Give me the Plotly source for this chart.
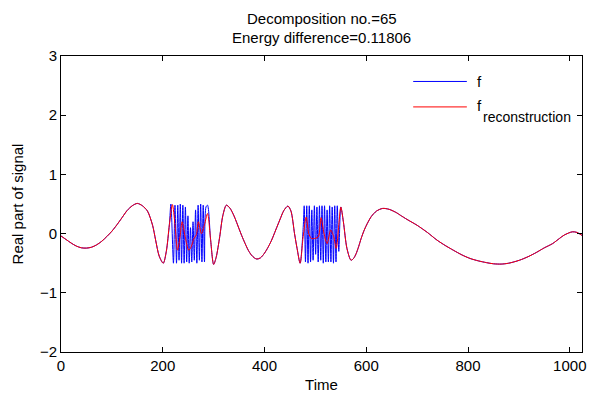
import plotly.graph_objects as go

# ---- data ----
# smooth part of the signal (shared by f and its reconstruction)
smooth_t = [0, 10, 20, 30, 40, 50, 60, 70, 80, 90, 100, 110, 120, 130, 140, 150,
            160, 170, 180, 186, 193, 201, 207, 213,
            300, 305, 312, 318, 325, 332, 340, 350, 355, 362, 368, 374, 380, 385, 392,
            400, 407, 414, 422, 430, 438, 446, 452, 459, 464, 470,
            570, 575, 580, 585, 590, 596, 602, 610, 620, 632, 645, 660, 667, 680, 700,
            720, 739, 755, 771, 788, 804, 820, 836, 850, 865, 880, 901, 918, 934,
            950, 966, 980, 989, 1005, 1014, 1024]
smooth_y = [-0.04, -0.10, -0.16, -0.21, -0.24, -0.245, -0.23, -0.19, -0.13, -0.05, 0.04, 0.15, 0.27, 0.39, 0.47, 0.51,
            0.47, 0.38, 0.14, -0.11, -0.38, -0.50, -0.30, 0.15,
            -0.52, -0.40, -0.05, 0.30, 0.48, 0.43, 0.30, 0.08, -0.03, -0.17, -0.28, -0.36, -0.41, -0.43, -0.41,
            -0.33, -0.23, -0.11, 0.06, 0.23, 0.39, 0.465, 0.38, 0.00, -0.25, -0.50,
            -0.45, -0.42, -0.34, -0.22, -0.08, 0.06, 0.17, 0.29, 0.38, 0.425, 0.41, 0.35, 0.31, 0.24, 0.14,
            0.02, -0.11, -0.20, -0.28, -0.36, -0.42, -0.46, -0.49, -0.51, -0.515, -0.50, -0.45, -0.39, -0.32,
            -0.24, -0.17, -0.08, -0.025, 0.03, 0.02, -0.03]

# high-frequency bursts of f (blue)
blue_b1_t = [216, 221, 224, 227, 229.5, 232, 234.5, 237, 239.5, 242, 244.5, 247, 249.5, 252,
             254.5, 257, 259.5, 262, 264.5, 267, 269.5, 272, 274.5, 277, 279.5, 282, 285, 288, 294]
blue_b1_y = [0.50, -0.50, 0.48, -0.50, 0.48, -0.45, 0.50, -0.50, 0.48, -0.50, 0.45, -0.48, 0.30, -0.50,
             0.10, -0.48, 0.20, -0.45, 0.40, -0.50, 0.48, -0.45, 0.50, -0.48, 0.48, -0.48, 0.45, 0.48, -0.10]
blue_b2_t = [476, 478, 480.5, 483, 485.5, 488, 490.5, 493, 495.5, 498, 500.5, 503, 505.5, 508,
             510.5, 513, 515.5, 518, 520.5, 523, 525.5, 528, 530.5, 533, 535.5, 538, 540.5, 543, 546, 550, 555, 562]
blue_b2_y = [0.10, 0.47, -0.48, 0.47, -0.50, 0.47, -0.48, 0.40, -0.45, 0.47, -0.35, 0.45, -0.48, 0.47,
             -0.45, 0.47, -0.50, 0.47, -0.48, 0.40, -0.48, 0.47, -0.48, 0.45, -0.50, 0.47, -0.48, 0.47, -0.30, 0.45, 0.20, -0.25]

# reconstruction inside the bursts (red)
red_b1_t = [219, 224, 229, 234, 238, 244, 251, 256, 261, 266, 270, 276, 282, 288, 294]
red_b1_y = [0.49, 0.15, -0.28, -0.05, 0.20, -0.05, -0.28, -0.22, -0.09, -0.02, 0.20, 0.00, 0.15, 0.34, -0.10]
red_b2_t = [476, 482, 487, 492, 500, 506, 511, 517, 523, 530, 536, 541, 546, 550, 555, 562]
red_b2_y = [-0.05, 0.28, 0.00, -0.08, -0.08, -0.05, 0.27, 0.00, -0.17, 0.06, -0.05, -0.25, 0.15, 0.45, 0.20, -0.25]

title_lines = ["Decomposition no.=65", "Energy difference=0.11806"]
x_ticks = [0, 200, 400, 600, 800, 1000]
y_ticks = [-2, -1, 0, 1, 2, 3]


def merge(ts, ys, *bursts):
    pts = list(zip(ts, ys))
    for bt, by in bursts:
        pts += list(zip(bt, by))
    pts.sort(key=lambda p: p[0])
    return [p[0] for p in pts], [p[1] for p in pts]


blue_t, blue_y = merge(smooth_t, smooth_y, (blue_b1_t, blue_b1_y), (blue_b2_t, blue_b2_y))
red_t, red_y = merge(smooth_t, smooth_y, (red_b1_t, red_b1_y), (red_b2_t, red_b2_y))

FONT = "Liberation Sans, Arial, Helvetica, sans-serif"

fig = go.Figure()
fig.add_trace(go.Scatter(x=blue_t, y=blue_y, mode="lines", name="f",
                         line=dict(color="#0000ff", width=1, shape="spline", smoothing=0.8),
                         showlegend=False))
fig.add_trace(go.Scatter(x=red_t, y=red_y, mode="lines", name="f_reconstruction",
                         line=dict(color="#ff0000", width=1, shape="spline", smoothing=0.8),
                         showlegend=False))

axis_common = dict(showline=True, linecolor="black", linewidth=1, mirror="allticks",
                   ticks="inside", ticklen=5, tickcolor="black", showgrid=False, zeroline=False,
                   tickfont=dict(family=FONT, size=15, color="black"))

fig.update_layout(
    width=596, height=402,
    margin=dict(l=61, r=10, t=56, b=50),
    paper_bgcolor="white", plot_bgcolor="white",
    font=dict(family=FONT, size=15, color="black"),
    xaxis=dict(range=[0, 1024], tickvals=x_ticks,
               title=dict(text="Time", standoff=6, font=dict(family=FONT, size=15)),
               **axis_common),
    yaxis=dict(range=[-2, 3], tickvals=y_ticks,
               title=dict(text="Real part of signal", standoff=12, font=dict(family=FONT, size=15)),
               **axis_common),
)

# two-line title
fig.add_annotation(xref="paper", yref="paper", x=0.5, y=1.128, text=title_lines[0], showarrow=False,
                   xanchor="center", yanchor="middle", font=dict(family=FONT, size=15))
fig.add_annotation(xref="paper", yref="paper", x=0.5, y=1.061, text=title_lines[1], showarrow=False,
                   xanchor="center", yanchor="middle", font=dict(family=FONT, size=15))

# legend drawn like MATLAB's (no box)
leg_x0, leg_x1 = 0.676, 0.779
fig.add_shape(type="line", xref="paper", yref="paper", x0=leg_x0, x1=leg_x1, y0=0.914, y1=0.914,
              line=dict(color="#0000ff", width=1))
fig.add_shape(type="line", xref="paper", yref="paper", x0=leg_x0, x1=leg_x1, y0=0.828, y1=0.828,
              line=dict(color="#ff0000", width=1))
fig.add_annotation(xref="paper", yref="paper", x=0.795, y=0.914, text="f", showarrow=False,
                   xanchor="left", yanchor="middle", font=dict(family=FONT, size=15))
fig.add_annotation(xref="paper", yref="paper", x=0.795, y=0.832, text="f", showarrow=False,
                   xanchor="left", yanchor="middle", font=dict(family=FONT, size=15))
fig.add_annotation(xref="paper", yref="paper", x=0.806, y=0.795, text="reconstruction", showarrow=False,
                   xanchor="left", yanchor="middle", font=dict(family=FONT, size=14))

fig.write_html("out.html")
